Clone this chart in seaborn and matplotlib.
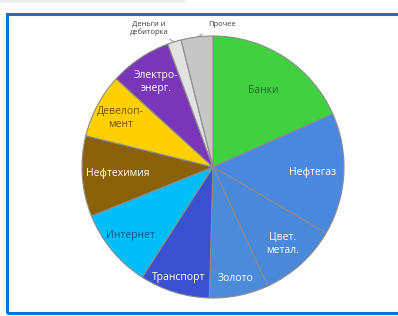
import numpy as np
import matplotlib
matplotlib.use('Agg')
import matplotlib.pyplot as plt
import seaborn as sns
from matplotlib.patches import Rectangle

# sector shares, % (clockwise from 12 o'clock)
sectors = ['Банки', 'Нефтегаз', 'Цвет.\nметал.', 'Золото', 'Транспорт',
           'Интернет', 'Нефтехимия', 'Девелоп-\nмент', 'Электро-\nэнерг.',
           'Деньги и\nдебиторка', 'Прочее']
shares = [18.3, 15.0, 9.7, 7.3, 8.6, 9.8, 9.9, 7.9, 7.6, 1.7, 3.9]

colors = ['#40D040', '#4A88E0', '#4A88DC', '#4C8ADA', '#3A50D0',
          '#00BEF8', '#8A6008', '#FFD000', '#7A36B8', '#E2E2E2', '#C6C6C6']
text_colors = ['#1F6A1F', 'white', 'white', 'white', 'white',
               '#1A5080', 'white', '#6E5200', 'white', None, None]
label_r = [0.70, 0.76, 0.79, 0.87, 0.88, 0.82, 0.73, 0.80, 0.78, None, None]

sns.set_theme(style='white')
plt.rcParams['font.family'] = ['Open Sans', 'DejaVu Sans']

W, H = 398, 316
fig = plt.figure(figsize=(W / 100, H / 100), dpi=100)
fig.patch.set_facecolor('white')

# pie centre at (213, 167) px, radius 131 px
cx, cy, R = 213, 167, 131
ax = fig.add_axes([(cx - R) / W, (H - cy - R) / H, 2 * R / W, 2 * R / H])
wedges, _ = ax.pie(shares, colors=colors, startangle=90, counterclock=False,
                   radius=1.0,
                   wedgeprops=dict(edgecolor='#8C8C8C', linewidth=0.8))
ax.set_xlim(-1, 1)
ax.set_ylim(-1, 1)
ax.set_aspect('equal')
ax.axis('off')

for w, lab, tc, r in zip(wedges, sectors, text_colors, label_r):
    mid = np.deg2rad((w.theta1 + w.theta2) / 2)
    if r is not None:
        ax.text(r * np.cos(mid), r * np.sin(mid), lab, color=tc,
                ha='center', va='center', fontsize=7.5, linespacing=1.25,
                fontweight='medium')

# small outer labels with leader lines
for i, (tx, ty) in zip([9, 10], [(-0.49, 1.06), (0.07, 1.09)]):
    w = wedges[i]
    mid = np.deg2rad((w.theta1 + w.theta2) / 2)
    ax.annotate(sectors[i], xy=(np.cos(mid), np.sin(mid)),
                xytext=(tx, ty), ha='center', va='center',
                fontsize=5.5, color='#404040', linespacing=1.2,
                arrowprops=dict(arrowstyle='-', color='#A0A0A0', lw=0.8,
                                shrinkA=5, shrinkB=0),
                annotation_clip=False)

# blue frame and light strip at top left
fig.patches.append(Rectangle((7 / W, 3 / H), 1.2, 299 / H,
                             transform=fig.transFigure, fill=False,
                             edgecolor='#0A72C8', linewidth=2.2))
fig.patches.append(Rectangle((0, 1 - 3 / H), 185 / W, 3 / H,
                             transform=fig.transFigure, facecolor='#EEEEEE',
                             edgecolor='none'))

fig.savefig('out.png', dpi=100)
